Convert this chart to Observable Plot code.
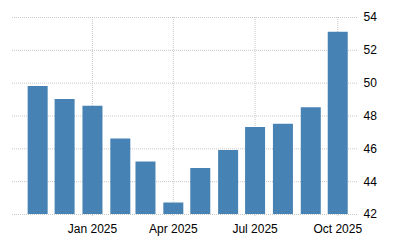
<!DOCTYPE html>
<html>
<head>
<meta charset="utf-8">
<script src="https://cdn.jsdelivr.net/npm/d3@7"></script>
<script src="https://cdn.jsdelivr.net/npm/@observablehq/plot@0.6"></script>
<style>
  html, body { margin: 0; padding: 0; background: #fff; }
  #chart { width: 400px; height: 250px; }
</style>
</head>
<body>
<div id="chart"></div>
<script>
const months = ["2024-11-01","2024-12-01","2025-01-01","2025-02-01","2025-03-01","2025-04-01","2025-05-01","2025-06-01","2025-07-01","2025-08-01","2025-09-01","2025-10-01"];
const values = [49.8, 49.0, 48.6, 46.6, 45.2, 42.7, 44.8, 45.9, 47.3, 47.5, 48.5, 53.1];
const yTicks = [42, 44, 46, 48, 50, 52, 54];
const xTicks = ["2025-01-01","2025-04-01","2025-07-01","2025-10-01"];
const xDomain = ["2024-10-04","2025-10-23"];

const data = months.map((m, i) => ({date: new Date(m), value: values[i]}));
const yMin = yTicks[0], yMax = yTicks[yTicks.length - 1];

const chart = Plot.plot({
  width: 400,
  height: 250,
  marginTop: 17,
  marginBottom: 36,
  marginLeft: 12,
  marginRight: 43,
  style: {fontFamily: "'Liberation Sans', Arial, sans-serif", fontSize: "12px", color: "#000", background: "#fff"},
  x: {type: "utc", domain: xDomain.map(d => new Date(d)), label: null},
  y: {domain: [yMin, yMax], label: null},
  marks: [
    Plot.gridY(yTicks, {stroke: "#c8c8c8", strokeOpacity: 1, strokeDasharray: "1,1"}),
    Plot.gridX(xTicks.map(d => new Date(d)), {stroke: "#c8c8c8", strokeOpacity: 1, strokeDasharray: "1,1", insetBottom: -3}),
    Plot.ruleX(data, {x: "date", y1: yMin, y2: "value", stroke: "#4682b4", strokeWidth: 20}),
    Plot.axisY(yTicks, {anchor: "right", tickSize: 0, tickPadding: 6, fontSize: 12, label: null}),
    Plot.axisX(xTicks.map(d => new Date(d)), {anchor: "bottom", tickSize: 0, tickPadding: 10, tickFormat: d3.utcFormat("%b %Y"), fontSize: 12, label: null})
  ]
});
document.getElementById("chart").appendChild(chart);
</script>
</body>
</html>
